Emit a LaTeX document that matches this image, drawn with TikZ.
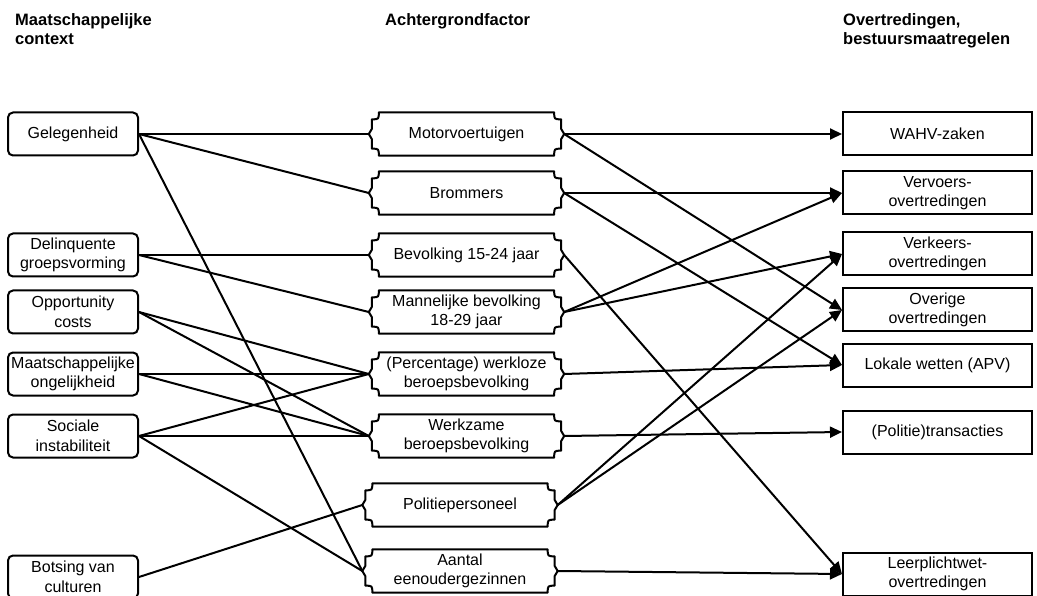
\documentclass[tikz,border=0pt]{standalone}
\usepackage{fontspec}
\setmainfont{Liberation Sans}
\usetikzlibrary{arrows.meta}

% outline of a factor box: concave corners and a small point on both sides
\newcommand{\factorframe}[1]{%
  \draw[frameline]
    ([xshift=7pt]#1.north west) -- ([xshift=-7pt]#1.north east)
    .. controls ([xshift=-7pt,yshift=-7pt]#1.north east) .. ([yshift=-7pt]#1.north east)
    -- ([yshift=5pt]#1.east) -- ([xshift=3pt]#1.east) -- ([yshift=-5pt]#1.east)
    -- ([yshift=7pt]#1.south east)
    .. controls ([xshift=-7pt,yshift=7pt]#1.south east) .. ([xshift=-7pt]#1.south east)
    -- ([xshift=7pt]#1.south west)
    .. controls ([xshift=7pt,yshift=7pt]#1.south west) .. ([yshift=7pt]#1.south west)
    -- ([yshift=-5pt]#1.west) -- ([xshift=-3pt]#1.west) -- ([yshift=5pt]#1.west)
    -- ([yshift=-7pt]#1.north west)
    .. controls ([xshift=7pt,yshift=-7pt]#1.north west) .. ([xshift=7pt]#1.north west)
    -- cycle;}

\begin{document}
\begin{tikzpicture}[
    x=1pt, y=-1pt,
    every node/.style={font=\fontsize{16}{19.5}\selectfont, align=center},
    headtext/.style={font=\fontsize{16.5}{19.5}\selectfont\bfseries, align=left, anchor=north west, inner sep=0pt},
    contextbox/.style={rectangle, draw, rounded corners=5pt, line width=2pt, minimum width=130pt, minimum height=43pt, inner sep=1pt},
    factorbox/.style={rectangle, minimum width=189pt, minimum height=43pt, inner sep=1pt},
    effectbox/.style={rectangle, draw, line width=2pt, minimum width=189pt, minimum height=43pt, inner sep=1pt},
    frameline/.style={line width=2pt, line join=round},
    link/.style={line width=2pt},
    arr/.style={line width=2pt, -{Triangle[length=12pt, width=11pt]}}
]
\useasboundingbox (0,0) rectangle (1037,596);

% Column headings
\node[headtext] (headctx) at (15,13) {Maatschappelijke\\context};
\node[headtext] (headfac) at (385,13) {Achtergrondfactor};
\node[headtext] (headeff) at (843,13) {Overtredingen,\\bestuursmaatregelen};

% Maatschappelijke context
\node[contextbox] (gelegenheid) at (73,134) {Gelegenheid};
\node[contextbox] (delinquent) at (73,255) {Delinquente\\groepsvorming};
\node[contextbox] (opportunity) at (73,312) {Opportunity\\costs};
\node[contextbox] (ongelijk) at (73,374) {Maatschappelijke\\ongelijkheid};
\node[contextbox] (instabiel) at (73,436) {Sociale\\instabiliteit};
\node[contextbox] (botsing) at (73,577) {Botsing van\\culturen};

% Achtergrondfactoren
\node[factorbox] (motor) at (466.5,134) {Motorvoertuigen};
\node[factorbox] (brommer) at (466.5,193) {Brommers};
\node[factorbox] (bev1524) at (466.5,255) {Bevolking 15-24 jaar};
\node[factorbox] (man1829) at (466.5,312) {Mannelijke bevolking\\18-29 jaar};
\node[factorbox] (werkloos) at (466.5,374) {(Percentage) werkloze\\beroepsbevolking};
\node[factorbox] (werkzaam) at (466.5,436) {Werkzame\\beroepsbevolking};
\node[factorbox] (politie) at (460,505) {Politiepersoneel};
\node[factorbox] (eenouder) at (460,571) {Aantal\\eenoudergezinnen};
\foreach \f in {motor,brommer,bev1524,man1829,werkloos,werkzaam,politie,eenouder}
    \factorframe{\f};

% Overtredingen, bestuursmaatregelen
\node[effectbox] (wahv) at (937.5,134) {WAHV-zaken};
\node[effectbox] (vervoer) at (937.5,193) {Vervoers-\\overtredingen};
\node[effectbox] (verkeer) at (937.5,254) {Verkeers-\\overtredingen};
\node[effectbox] (overig) at (937.5,310) {Overige\\overtredingen};
\node[effectbox] (apv) at (937.5,365) {Lokale wetten (APV)};
\node[effectbox] (transactie) at (937.5,432) {(Politie)transacties};
\node[effectbox] (leerplicht) at (937.5,574) {Leerplichtwet-\\overtredingen};

% Context -> factor
\draw[link] (gelegenheid.east) -- ([xshift=-3pt]motor.west);
\draw[link] (gelegenheid.east) -- ([xshift=-3pt]brommer.west);
\draw[link] (gelegenheid.east) -- ([xshift=-3pt]eenouder.west);
\draw[link] (delinquent.east) -- ([xshift=-3pt]bev1524.west);
\draw[link] (delinquent.east) -- ([xshift=-3pt]man1829.west);
\draw[link] (opportunity.east) -- ([xshift=-3pt]werkloos.west);
\draw[link] (opportunity.east) -- ([xshift=-3pt]werkzaam.west);
\draw[link] (ongelijk.east) -- ([xshift=-3pt]werkloos.west);
\draw[link] (ongelijk.east) -- ([xshift=-3pt]werkzaam.west);
\draw[link] (instabiel.east) -- ([xshift=-3pt]werkloos.west);
\draw[link] (instabiel.east) -- ([xshift=-3pt]werkzaam.west);
\draw[link] (instabiel.east) -- ([xshift=-3pt]eenouder.west);
\draw[link] (botsing.east) -- ([xshift=-3pt]politie.west);

% Factor -> overtreding
\draw[arr] ([xshift=3pt]motor.east) -- (wahv.west);
\draw[arr] ([xshift=3pt]motor.east) -- (overig.west);
\draw[arr] ([xshift=3pt]brommer.east) -- (vervoer.west);
\draw[arr] ([xshift=3pt]brommer.east) -- (apv.west);
\draw[arr] ([xshift=3pt]bev1524.east) -- (leerplicht.west);
\draw[arr] ([xshift=3pt]man1829.east) -- (vervoer.west);
\draw[arr] ([xshift=3pt]man1829.east) -- (verkeer.west);
\draw[arr] ([xshift=3pt]werkloos.east) -- (apv.west);
\draw[arr] ([xshift=3pt]werkzaam.east) -- (transactie.west);
\draw[arr] ([xshift=3pt]politie.east) -- (verkeer.west);
\draw[arr] ([xshift=3pt]politie.east) -- (overig.west);
\draw[arr] ([xshift=3pt]eenouder.east) -- (leerplicht.west);
\end{tikzpicture}
\end{document}
